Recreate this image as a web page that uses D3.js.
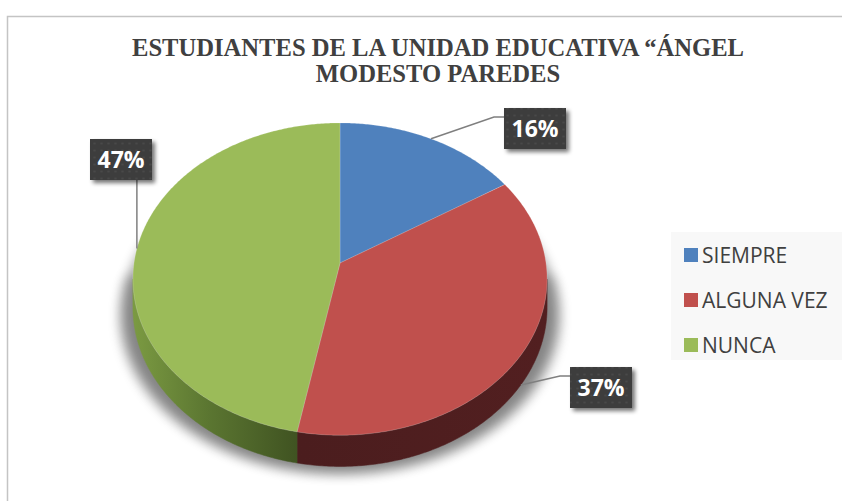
<!DOCTYPE html>
<html>
<head>
<meta charset="utf-8">
<script src="https://cdn.jsdelivr.net/npm/d3@7"></script>
<style>
  body { margin: 0; background: #fff; }
  svg { display: block; }
</style>
</head>
<body>
<div id="chart"></div>
<script>
// data
var categories = ["SIEMPRE", "ALGUNA VEZ", "NUNCA"];
var percents = [16, 37, 47];
var labels = ["16%", "37%", "47%"];
var colors = ["#4f81bd", "#c0504d", "#9bbb59"];
var titleLines = ["ESTUDIANTES DE LA UNIDAD EDUCATIVA \u201C\u00C1NGEL", "MODESTO PAREDES"];

function start(){
    var width = 842, height = 501;
    var svg = d3.select("#chart").append("svg")
        .attr("width", width)
        .attr("height", height);

    var defs = svg.append("defs");

    // blur for pie shadow
    defs.append("filter").attr("id", "pieShadow")
        .attr("x", "-20%").attr("y", "-20%").attr("width", "140%").attr("height", "140%")
        .append("feGaussianBlur").attr("stdDeviation", 6);

    var boxShadow = defs.append("filter").attr("id", "boxShadow")
        .attr("x", "-30%").attr("y", "-30%").attr("width", "160%").attr("height", "160%");
    boxShadow.append("feGaussianBlur").attr("in", "SourceAlpha").attr("stdDeviation", 2.2).attr("result", "b");
    boxShadow.append("feOffset").attr("in", "b").attr("dx", 3).attr("dy", 3).attr("result", "o");
    boxShadow.append("feComponentTransfer").attr("in", "o").attr("result", "s")
        .append("feFuncA").attr("type", "linear").attr("slope", 0.55);
    var merge = boxShadow.append("feMerge");
    merge.append("feMergeNode").attr("in", "s");
    merge.append("feMergeNode").attr("in", "SourceGraphic");

    // dotted dark fill of the data labels
    var pat = defs.append("pattern").attr("id", "dots")
        .attr("patternUnits", "userSpaceOnUse").attr("width", 7).attr("height", 7);
    pat.append("rect").attr("width", 7).attr("height", 7).attr("fill", "#3d3d3d");
    pat.append("circle").attr("cx", 3.5).attr("cy", 3.5).attr("r", 1.1).attr("fill", "#4a4a4a");

    // side wall gradients
    var gGreen = defs.append("linearGradient").attr("id", "sideGreen")
        .attr("gradientUnits", "userSpaceOnUse")
        .attr("x1", 133).attr("y1", 0).attr("x2", 300).attr("y2", 0);
    gGreen.append("stop").attr("offset", "0%").attr("stop-color", "#7b9a42");
    gGreen.append("stop").attr("offset", "45%").attr("stop-color", "#5b7631");
    gGreen.append("stop").attr("offset", "100%").attr("stop-color", "#3f5221");
    var gRed = defs.append("linearGradient").attr("id", "sideRed")
        .attr("gradientUnits", "userSpaceOnUse")
        .attr("x1", 300).attr("y1", 0).attr("x2", 548).attr("y2", 0);
    gRed.append("stop").attr("offset", "0%").attr("stop-color", "#4b1d1e");
    gRed.append("stop").attr("offset", "100%").attr("stop-color", "#521f20");
    var gBlue = defs.append("linearGradient").attr("id", "sideBlue");
    gBlue.append("stop").attr("offset", "0%").attr("stop-color", "#2c4a6e");
    var sideFill = ["url(#sideBlue)", "url(#sideRed)", "url(#sideGreen)"];

    // chart frame
    svg.append("path")
        .attr("d", "M7.5," + height + " V16.5 H" + width)
        .attr("fill", "none")
        .attr("stroke", "#c4c4c4")
        .attr("stroke-width", 1.5);

    // title
    svg.append("g").selectAll("text")
        .data(titleLines)
        .enter()
        .append("text")
        .attr("x", 438)
        .attr("y", function(d, i){ return 56 + i * 26; })
        .attr("text-anchor", "middle")
        .style("font-family", "'Liberation Serif', 'Times New Roman', serif")
        .style("font-weight", "bold")
        .style("font-size", "24.6px")
        .style("fill", "#404040")
        .text(function(d){ return d; });

    // 3d pie projection
    var cx = 340, cy = 263, A = 206, B = 154.5, k = 0.103, depth = 28;
    function proj(theta, z){
        var u = Math.sin(theta), v = -Math.cos(theta);
        var s = 1 / (1 - k * v);
        return [cx + A * u * s, cy + B * v * s + z * s];
    }
    function arcPts(a0, a1, z){
        var n = Math.max(2, Math.ceil(Math.abs(a1 - a0) / 0.01));
        var pts = [];
        for (var i = 0; i <= n; i++) pts.push(proj(a0 + (a1 - a0) * i / n, z));
        return pts;
    }
    var line = d3.line();

    var pie = d3.pie().sort(null).value(function(d){ return d; });
    var arcs = pie(percents);

    // soft shadow under the pie
    svg.append("path")
        .attr("d", line(arcPts(0, 2 * Math.PI, depth + 2).map(function(p){
            return [cx + (p[0] - cx) * 1.05, p[1] + 4];
        })) + "Z")
        .attr("fill", "#000")
        .attr("opacity", 0.36)
        .attr("filter", "url(#pieShadow)");
    svg.append("path")
        .attr("d", line(arcPts(Math.PI * 0.45, Math.PI * 1.55, depth).map(function(p){
            return [cx + (p[0] - cx) * 1.07, p[1] + 9];
        })) + "Z")
        .attr("fill", "#000")
        .attr("opacity", 0.18)
        .attr("filter", "url(#pieShadow)");

    // visible side walls
    var tMin = Math.acos(-k), tMax = 2 * Math.PI - Math.acos(-k);
    svg.append("g").selectAll("path")
        .data(arcs)
        .enter()
        .append("path")
        .attr("d", function(d){
            var lo = Math.max(d.startAngle, tMin), hi = Math.min(d.endAngle, tMax);
            if (lo >= hi) return null;
            return line(arcPts(lo, hi, 0).concat(arcPts(hi, lo, depth))) + "Z";
        })
        .attr("fill", function(d, i){ return sideFill[i]; })
        .attr("stroke", function(d, i){ return sideFill[i]; })
        .attr("stroke-width", 0.5);

    // top faces
    svg.append("g").selectAll("path")
        .data(arcs)
        .enter()
        .append("path")
        .attr("d", function(d){
            return line([[cx, cy]].concat(arcPts(d.startAngle, d.endAngle, 0))) + "Z";
        })
        .attr("fill", function(d, i){ return colors[i]; })
        .attr("stroke", "rgba(255,255,255,0.3)")
        .attr("stroke-width", 0.6)
        .attr("stroke-linejoin", "round");

    // data labels: box top-left positions (layout)
    var boxW = 62, boxH = 41;
    var boxPos = [[504, 108], [570, 367], [90, 139]];
    var lg = svg.append("g");
    arcs.forEach(function(d, i){
        var mid = (d.startAngle + d.endAngle) / 2;
        var front = -Math.cos(mid) > 0;
        var anchor = proj(mid, front ? depth : 0);
        var bx = boxPos[i][0], by = boxPos[i][1];
        var pts;
        if (anchor[1] > by + boxH) {
            pts = [anchor, [anchor[0], by + boxH]];
        } else if (anchor[0] < bx) {
            pts = [anchor, [bx - 10, by + 9], [bx, by + 9]];
        } else {
            pts = [anchor, [bx + boxW + 10, by + 9], [bx + boxW, by + 9]];
        }
        lg.append("path")
            .attr("d", line(pts))
            .attr("fill", "none")
            .attr("stroke", "#7f7f7f")
            .attr("stroke-width", 1.5);
        lg.append("rect")
            .attr("x", bx).attr("y", by)
            .attr("width", boxW).attr("height", boxH)
            .attr("fill", "url(#dots)")
            .attr("filter", "url(#boxShadow)");
        lg.append("text")
            .attr("x", bx + boxW / 2)
            .attr("y", by + boxH / 2 + 8.5)
            .attr("text-anchor", "middle")
            .style("font-family", "'Open Sans', 'Noto Sans', sans-serif")
            .style("font-weight", "bold")
            .style("font-size", "23px")
            .style("fill", "#ffffff")
            .text(labels[i]);
    });

    // legend
    var legend = svg.append("g");
    legend.append("rect")
        .attr("x", 671).attr("y", 232)
        .attr("width", width - 671).attr("height", 128)
        .attr("fill", "#f8f8f8");
    var items = legend.selectAll("g.item")
        .data(categories)
        .enter()
        .append("g")
        .attr("class", "item")
        .attr("transform", function(d, i){ return "translate(684," + (248 + i * 45) + ")"; });
    items.append("rect")
        .attr("width", 14).attr("height", 14)
        .attr("fill", function(d, i){ return colors[i]; });
    items.append("text")
        .attr("x", 18)
        .attr("y", 14.5)
        .style("font-family", "'Open Sans', 'Noto Sans', sans-serif")
        .style("font-size", "21px")
        .style("fill", "#404040")
        .text(function(d){ return d; });
}

start();
</script>
</body>
</html>
